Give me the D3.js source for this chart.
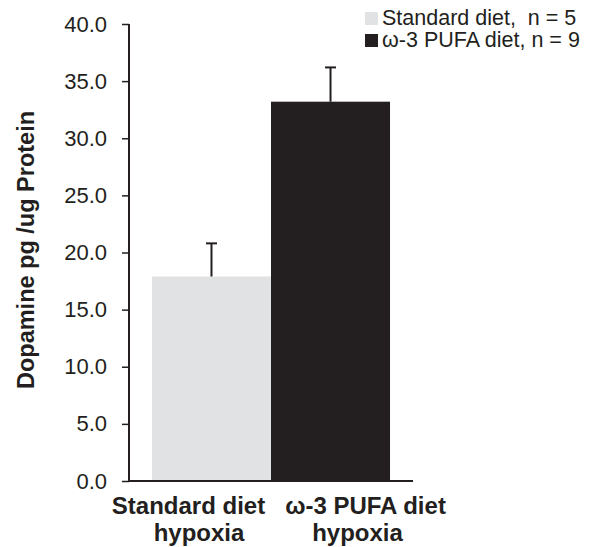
<!DOCTYPE html>
<html>
<head>
<meta charset="utf-8">
<script src="https://cdn.jsdelivr.net/npm/d3@7"></script>
<style>
  body { margin: 0; background: #fff; }
  text { font-family: "Liberation Sans", Arial, sans-serif; fill: #231f20; white-space: pre; }
</style>
</head>
<body>
<div id="chart"></div>
<script>
// dopamine levels, hypoxia groups
var groups = ["Standard diet", "ω-3 PUFA diet"]
var xLines = [["Standard diet", "hypoxia"], ["ω-3 PUFA diet", "hypoxia"]]
var means = [17.9, 33.2]
var errs = [2.9, 3.0]
var legendLabels = ["Standard diet,  n = 5", "ω-3 PUFA diet, n = 9"]
var colors = ["#e1e2e4", "#231f20"]
var yTicks = [0, 5, 10, 15, 20, 25, 30, 35, 40]
var y_label = "Dopamine pg /ug Protein"

var width = 601, height = 547
var plot_left = 129, plot_right = 413, plot_top = 24, plot_bottom = 481

var svg = d3.select("#chart").append("svg")
  .attr("width", width)
  .attr("height", height)

var xScale = d3.scaleBand()
  .domain(groups)
  .range([plot_left, plot_right])
  .paddingInner(0)
  .paddingOuter(0.193)

var yScale = d3.scaleLinear()
  .domain([0, 40])
  .range([plot_bottom, plot_top])

// bars
svg.append("g").selectAll("rect")
  .data(groups)
  .enter().append("rect")
    .attr("x", function(d) { return xScale(d) })
    .attr("y", function(d, i) { return yScale(means[i]) })
    .attr("width", xScale.bandwidth())
    .attr("height", function(d, i) { return yScale(0) - yScale(means[i]) })
    .attr("fill", function(d, i) { return colors[i] })

// error bars (upper only)
var eb = svg.append("g").attr("stroke", "#231f20").attr("stroke-width", 2)
groups.forEach(function(g, i) {
  var cx = xScale(g) + xScale.bandwidth() / 2
  eb.append("line")
    .attr("x1", cx).attr("x2", cx)
    .attr("y1", yScale(means[i])).attr("y2", yScale(means[i] + errs[i]))
  eb.append("line")
    .attr("x1", cx - 5.5).attr("x2", cx + 5.5)
    .attr("y1", yScale(means[i] + errs[i])).attr("y2", yScale(means[i] + errs[i]))
})

// y axis
var yAxis = svg.append("g")
  .attr("transform", "translate(" + plot_left + ",0)")
  .call(d3.axisLeft(yScale).tickValues(yTicks).tickSize(7).tickPadding(15)
    .tickFormat(d3.format(".1f")))
yAxis.select(".domain").attr("stroke", "#231f20").attr("stroke-width", 2).attr("d", "M0," + plot_top + "V" + plot_bottom)
yAxis.selectAll(".tick line").attr("stroke", "#231f20").attr("stroke-width", 1.5)
yAxis.selectAll(".tick text").style("font-size", "22px").attr("fill", "#231f20")
  .style("font-family", "'Liberation Sans', Arial, sans-serif")

// x axis line
svg.append("line")
  .attr("x1", plot_left - 1).attr("x2", plot_right)
  .attr("y1", plot_bottom).attr("y2", plot_bottom)
  .attr("stroke", "#231f20").attr("stroke-width", 2)

// category labels, lines are not centred on the bars in the original
var labelShift = [[-23, -12.5], [35, 27]]
var xl = svg.append("g")
groups.forEach(function(g, i) {
  var cx = xScale(g) + xScale.bandwidth() / 2
  xLines[i].forEach(function(line, j) {
    xl.append("text")
      .attr("text-anchor", "middle")
      .attr("x", cx + labelShift[i][j])
      .attr("y", 514 + j * 27)
      .style("font-size", "24px")
      .style("font-weight", "bold")
      .text(line)
  })
})

// y label
svg.append("text")
  .attr("transform", "translate(34,250)rotate(-90)")
  .attr("text-anchor", "middle")
  .style("font-size", "23.5px")
  .style("font-weight", "bold")
  .text(y_label)

// legend
var legend = svg.append("g").selectAll("g")
  .data(legendLabels)
  .enter().append("g")
    .attr("transform", function(d, i) { return "translate(365," + (12 + i * 22) + ")" })
legend.append("rect")
  .attr("width", 13).attr("height", 13)
  .attr("fill", function(d, i) { return colors[i] })
legend.append("text")
  .attr("x", 17).attr("y", 13)
  .style("font-size", "21.5px")
  .text(function(d) { return d })
</script>
</body>
</html>
